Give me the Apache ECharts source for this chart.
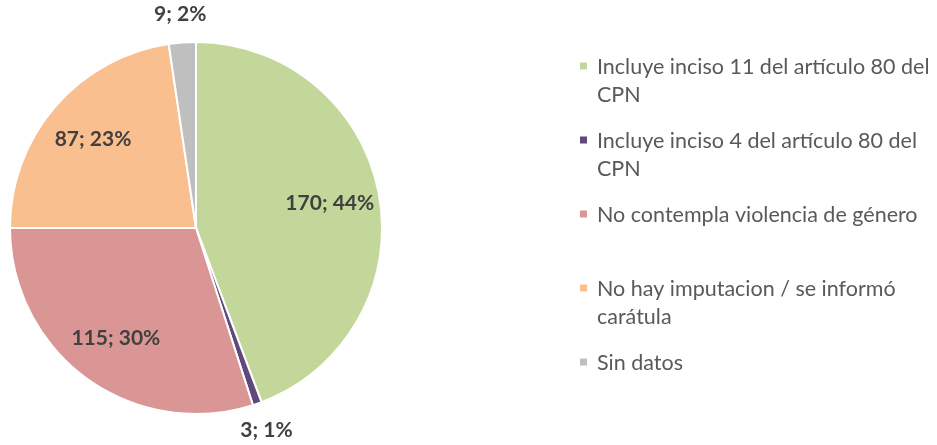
<!DOCTYPE html>
<html>
<head>
<meta charset="utf-8">
<script src="https://cdn.jsdelivr.net/npm/echarts@6/dist/echarts.min.js"></script>
<style>
  html, body { margin: 0; padding: 0; background: #fff; }
  #chart { width: 937px; height: 445px; }
</style>
</head>
<body>
<div id="chart"></div>
<script>
'use strict';

// data
const categories = [
  'Incluye inciso 11 del artículo 80 del CPN',
  'Incluye inciso 4 del artículo 80 del CPN',
  'No contempla violencia de género',
  'No hay imputacion / se informó carátula',
  'Sin datos'
];
const counts = [170, 3, 115, 87, 9];
// how the legend wraps each entry (two lines per slot)
const legendLines = [
  'Incluye inciso 11 del artículo 80 del\nCPN',
  'Incluye inciso 4 del artículo 80 del\nCPN',
  'No contempla violencia de género\n ',
  'No hay imputacion / se informó\ncarátula',
  'Sin datos\n '
];
const colors = ['#C4D79B', '#60497A', '#DA9694', '#FABF8F', '#BFBFBF'];
const outsideLabel = [false, true, false, false, true];

const font = 'Lato, "Open Sans", sans-serif';
const center = [196, 228];

const labelFmt = p => p.value + '; ' + Math.round(p.percent) + '%';
const labelStyle = {
  fontFamily: font, fontWeight: 'bold', fontSize: 21, color: '#404040'
};

function labelData(showOutside) {
  return categories.map((name, i) => ({
    name: name,
    value: counts[i],
    label: { show: outsideLabel[i] === showOutside }
  }));
}

// square marker sitting at the top of a taller box, so it lines up with the first text line
const legendIcon = 'path://M0,0h9v9h-9Z M13,39h0.01v0.01h-0.01Z';

const chart = echarts.init(document.getElementById('chart'), null, { renderer: 'canvas' });

chart.setOption({
  animation: false,
  color: colors,
  legend: {
    orient: 'vertical',
    left: 573,
    top: 48,
    itemWidth: 13,
    itemHeight: 39,
    itemGap: 18,
    icon: legendIcon,
    data: categories,
    formatter: name => legendLines[categories.indexOf(name)],
    textStyle: {
      fontFamily: font,
      fontSize: 21.5,
      color: '#595959',
      lineHeight: 28
    }
  },
  series: [
    {
      type: 'pie',
      center: center,
      radius: [0, 186],
      startAngle: 90,
      clockwise: true,
      silent: true,
      label: { show: false },
      labelLine: { show: false },
      itemStyle: { borderColor: '#fff', borderWidth: 2 },
      data: categories.map((name, i) => ({ name: name, value: counts[i] }))
    },
    {
      // labels inside the slices
      type: 'pie',
      center: center,
      radius: [80, 186],
      startAngle: 90,
      silent: true,
      itemStyle: { color: 'transparent', borderWidth: 0 },
      label: Object.assign({ position: 'inside', formatter: labelFmt }, labelStyle),
      labelLine: { show: false },
      data: labelData(false)
    },
    {
      // labels outside the small slices
      type: 'pie',
      center: center,
      radius: [186, 236],
      startAngle: 90,
      silent: true,
      itemStyle: { color: 'transparent', borderWidth: 0 },
      label: Object.assign({ position: 'inside', formatter: labelFmt }, labelStyle),
      labelLine: { show: false },
      data: labelData(true)
    }
  ]
});
</script>
</body>
</html>
